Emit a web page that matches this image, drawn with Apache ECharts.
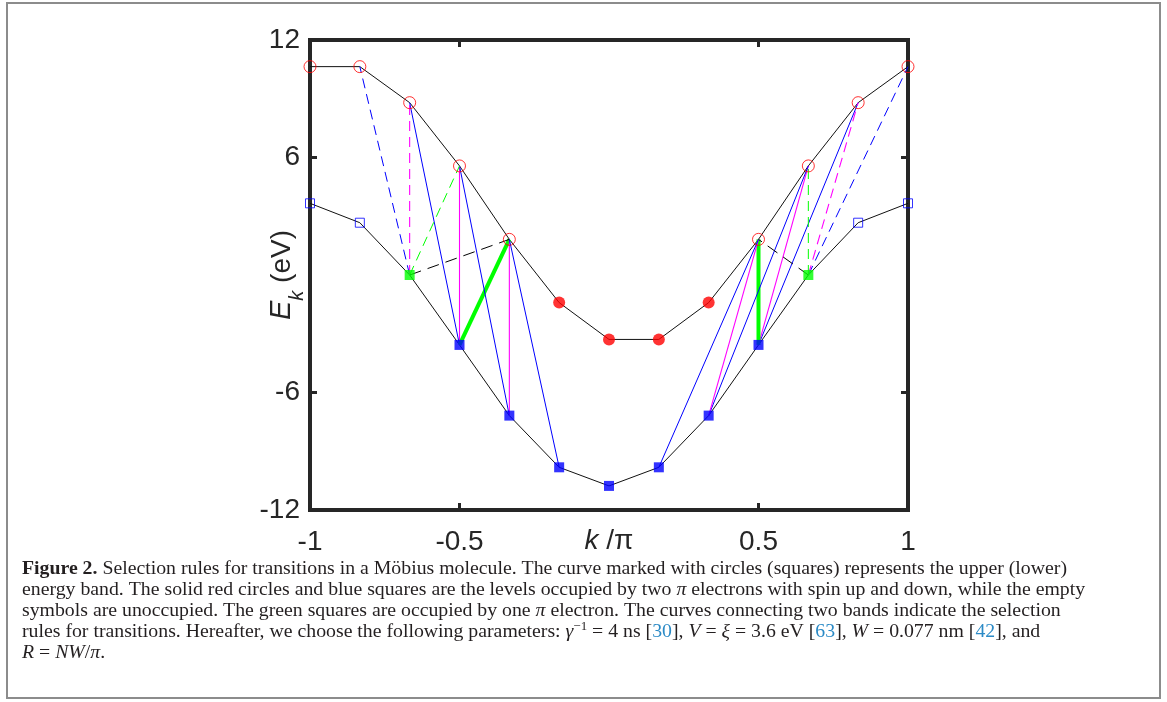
<!DOCTYPE html>
<html><head><meta charset="utf-8">
<script src="https://cdn.jsdelivr.net/npm/echarts@6/dist/echarts.min.js"></script>
<style>html,body{margin:0;padding:0;background:#fff}#c{width:1167px;height:702px}</style>
</head><body><div id="c"></div>
<script>
// k / pi positions
const kValues = [-1, -0.8333, -0.6667, -0.5, -0.3333, -0.1667, 0, 0.1667, 0.3333, 0.5, 0.6667, 0.8333, 1];
// upper band (circles), eV
const upperBand = [10.64, 10.64, 8.8, 5.57, 1.82, -1.41, -3.29, -3.29, -1.41, 1.82, 5.57, 8.8, 10.64];
// lower band (squares), eV
const lowerBand = [3.66, 2.67, 0, -3.57, -7.18, -9.82, -10.77, -9.82, -7.18, -3.57, 0, 2.67, 3.66];
// occupation: empty / full / single
const upperState = ['empty','empty','empty','empty','empty','full','full','full','full','empty','empty','empty','empty'];
const lowerState = ['empty','empty','single','full','full','full','full','full','full','full','single','empty','empty'];
// transitions: [lower index, upper index, style]
const transitions = [
  [3, 2, 'blue'], [3, 3, 'magenta'], [3, 4, 'greenThick'],
  [4, 3, 'blue'], [4, 4, 'magenta'], [5, 4, 'blue'],
  [2, 1, 'blueDash'], [2, 2, 'magentaDash'], [2, 3, 'greenDash'], [2, 4, 'blackDash'],
  [9, 11, 'blue'], [9, 10, 'magenta'], [9, 9, 'greenThick'],
  [8, 10, 'blue'], [8, 9, 'magenta'], [7, 9, 'blue'],
  [10, 12, 'blueDash'], [10, 11, 'magentaDash'], [10, 10, 'greenDash'], [10, 9, 'blackDash']
];
const xTickLabels = [-1, -0.5, 0.5, 1];
const yTickLabels = [-12, -6, 6, 12];
const xInnerTicks = [-0.5, 0.5];
const yInnerTicks = [-6, 6];

const styleMap = {
  blue: {color: '#0000ff', width: 1, type: 'solid'},
  magenta: {color: '#ff00ff', width: 1.1, type: 'solid'},
  greenThick: {color: '#00ff00', width: 4, type: 'solid'},
  blueDash: {color: '#0000ff', width: 1, type: [10, 6]},
  magentaDash: {color: '#ff00ff', width: 1.1, type: [10, 6]},
  greenDash: {color: '#00ff00', width: 1, type: [10, 6]},
  blackDash: {color: '#000000', width: 1, type: [12, 7]}
};

const axisColor = '#262626';
const sansFont = "'Liberation Sans', Arial, sans-serif";
const serifFont = "'Liberation Serif', 'Times New Roman', serif";

function pts(values, states, st) {
  const out = [];
  values.forEach((v, i) => { if (states[i] === st) out.push([kValues[i], v]); });
  return out;
}

const chart = echarts.init(document.getElementById('c'), null, {renderer: 'canvas'});

const axisBase = {
  type: 'value',
  axisLine: {show: true, onZero: false, lineStyle: {color: axisColor, width: 4, cap: 'square'}},
  splitLine: {show: false}
};

const capSize = 19.8;
const rich = {
  b: {fontWeight: 'bold', fontSize: capSize, fontFamily: serifFont, fill: '#231f20'},
  i: {fontStyle: 'italic', fontSize: capSize, fontFamily: serifFont, fill: '#231f20'},
  c: {fontSize: capSize, fontFamily: serifFont, fill: '#2b8ac6'},
  sup: {fontSize: 13, fontFamily: serifFont, fill: '#231f20', padding: [0, 0, 11, 0]}
};
const captionLines = [
  '{b|Figure 2.} Selection rules for transitions in a Möbius molecule. The curve marked with circles (squares) represents the upper (lower)',
  'energy band. The solid red circles and blue squares are the levels occupied by two {i|π} electrons with spin up and down, while the empty',
  'symbols are unoccupied. The green squares are occupied by one {i|π} electron. The curves connecting two bands indicate the selection',
  'rules for transitions. Hereafter, we choose the following parameters: {i|γ}{sup|−1} = 4 ns [{c|30}], {i|V} = {i|ξ} = 3.6 eV [{c|63}], {i|W} = 0.077 nm [{c|42}], and',
  '{i|R} = {i|NW}/{i|π}.'
];
const graphics = [{
  type: 'rect', silent: true,
  shape: {x: 7, y: 3, width: 1153, height: 695},
  style: {fill: 'none', stroke: '#8c8c8c', lineWidth: 2}
}];
captionLines.forEach((t, i) => {
  graphics.push({
    type: 'text', silent: true,
    style: {
      text: t, x: 22, y: 569 + i * 21,
      fontSize: capSize, fontFamily: serifFont, fill: '#231f20',
      verticalAlign: 'middle', align: 'left', rich: rich
    }
  });
});

const bandSeries = [
  {type: 'line', name: 'upper', data: kValues.map((k, i) => [k, upperBand[i]]), showSymbol: false, symbol: 'none',
    lineStyle: {color: '#111', width: 1}, z: 2, silent: true},
  {type: 'line', name: 'lower', data: kValues.map((k, i) => [k, lowerBand[i]]), showSymbol: false, symbol: 'none',
    lineStyle: {color: '#111', width: 1}, z: 2, silent: true}
];
const transitionSeries = transitions.map(t => ({
  type: 'line', silent: true, z: 3, symbol: 'none', showSymbol: false,
  data: [[kValues[t[0]], lowerBand[t[0]]], [kValues[t[1]], upperBand[t[1]]]],
  lineStyle: Object.assign({opacity: 1}, styleMap[t[2]])
}));
const markerSeries = [
  {type: 'scatter', data: pts(upperBand, upperState, 'empty'), symbol: 'circle', symbolSize: 12, z: 4, silent: true,
    itemStyle: {color: 'transparent', borderColor: '#ff0000', borderWidth: 1}},
  {type: 'scatter', data: pts(upperBand, upperState, 'full'), symbol: 'circle', symbolSize: 12, z: 4, silent: true,
    itemStyle: {color: '#ff0000'}},
  {type: 'scatter', data: pts(lowerBand, lowerState, 'empty'), symbol: 'rect', symbolSize: 9, z: 4, silent: true,
    itemStyle: {color: 'transparent', borderColor: '#0000ff', borderWidth: 1}},
  {type: 'scatter', data: pts(lowerBand, lowerState, 'full'), symbol: 'rect', symbolSize: 10, z: 4, silent: true,
    itemStyle: {color: '#0000ff'}},
  {type: 'scatter', data: pts(lowerBand, lowerState, 'single'), symbol: 'rect', symbolSize: 10, z: 4, silent: true,
    itemStyle: {color: '#00ff00'}}
];

const option = {
  animation: false,
  backgroundColor: '#ffffff',
  grid: {left: 310, right: 259, top: 40, bottom: 192, containLabel: false, outerBoundsMode: 'none'},
  xAxis: [
    Object.assign({}, axisBase, {
      position: 'bottom', min: -1, max: 1, interval: 0.5,
      axisTick: {show: true, inside: true, length: 7, customValues: xInnerTicks, lineStyle: {color: axisColor, width: 3}},
      axisLabel: {show: true, customValues: xTickLabels, fontSize: 28, color: axisColor, fontFamily: sansFont, margin: 18},
      name: '{i|k} /π', nameLocation: 'middle', nameGap: 17, nameMoveOverlap: false,
      nameTextStyle: {fontSize: 28, color: axisColor, fontFamily: sansFont, verticalAlign: 'top',
        rich: {i: {fontStyle: 'italic', fontSize: 28, color: axisColor, fontFamily: sansFont}}}
    }),
    Object.assign({}, axisBase, {
      position: 'top', min: -1, max: 1, interval: 0.5,
      axisTick: {show: true, inside: true, length: 7, customValues: xInnerTicks, lineStyle: {color: axisColor, width: 3}},
      axisLabel: {show: false}
    })
  ],
  yAxis: [
    Object.assign({}, axisBase, {
      position: 'left', min: -12, max: 12, interval: 6,
      axisTick: {show: true, inside: true, length: 7, customValues: yInnerTicks, lineStyle: {color: axisColor, width: 3}},
      axisLabel: {show: true, customValues: yTickLabels, fontSize: 28, color: axisColor, fontFamily: sansFont, margin: 10},
      name: '{e|E}{s|k} (eV)', nameLocation: 'middle', nameGap: 3, nameRotate: 90, nameMoveOverlap: false,
      nameTextStyle: {fontSize: 28, color: axisColor, fontFamily: sansFont,
        rich: {
          e: {fontStyle: 'italic', fontSize: 29, color: axisColor, fontFamily: sansFont},
          s: {fontStyle: 'italic', fontSize: 20, color: axisColor, fontFamily: sansFont, padding: [30, 0, 0, 0]}
        }}
    }),
    Object.assign({}, axisBase, {
      position: 'right', min: -12, max: 12, interval: 6,
      axisTick: {show: true, inside: true, length: 7, customValues: yInnerTicks, lineStyle: {color: axisColor, width: 3}},
      axisLabel: {show: false}
    })
  ],
  series: bandSeries.concat(transitionSeries, markerSeries),
  graphic: graphics
};
chart.setOption(option);
</script></body></html>
